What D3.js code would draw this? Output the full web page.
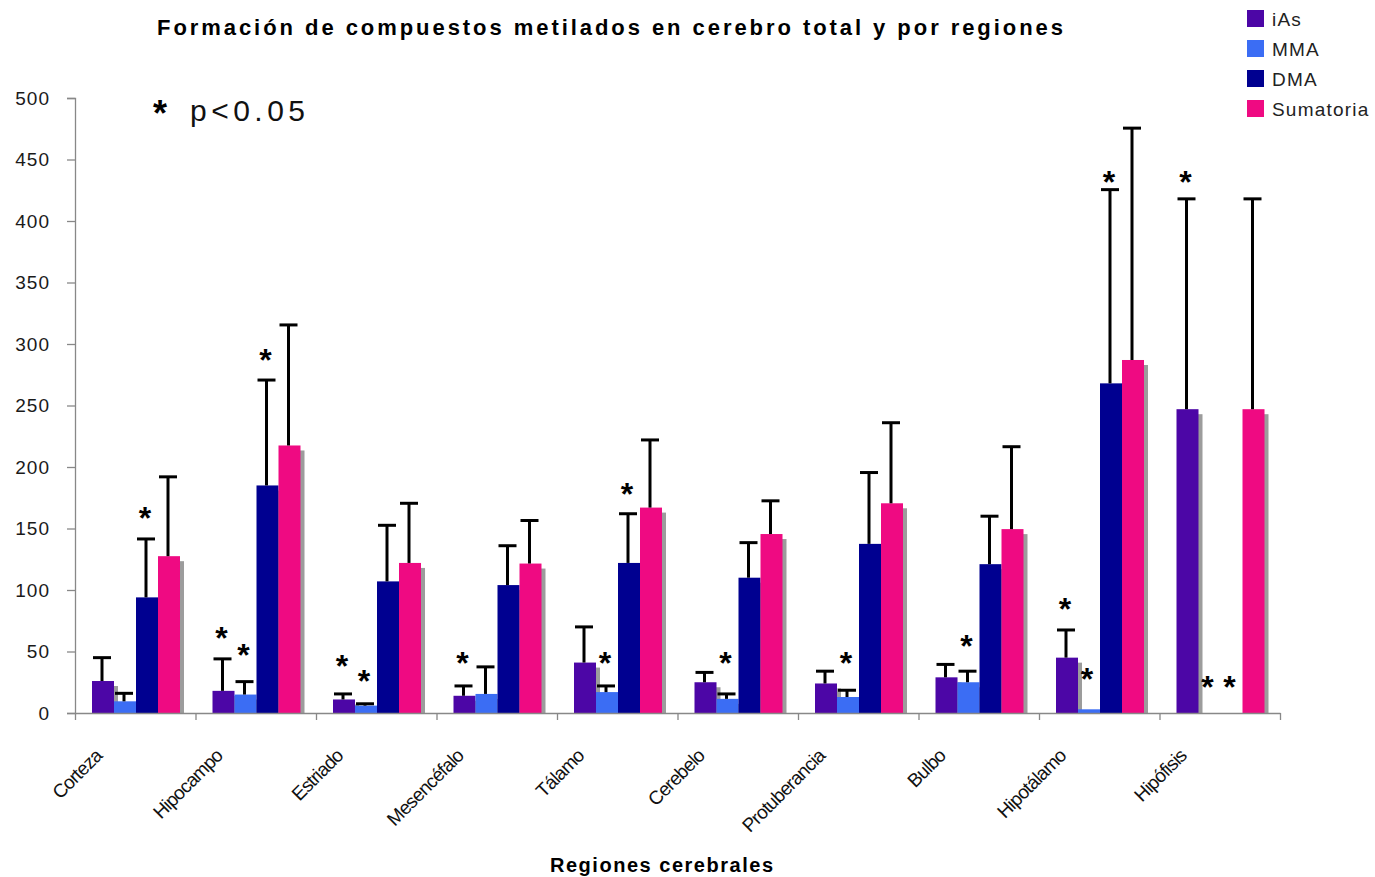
<!DOCTYPE html>
<html lang="es">
<head>
<meta charset="utf-8">
<title>Formación de compuestos metilados en cerebro total y por regiones</title>
<script src="https://cdn.jsdelivr.net/npm/d3@7"></script>
<style>
  html, body { margin: 0; padding: 0; background: #ffffff; }
  svg { display: block; font-family: "Liberation Sans", Arial, sans-serif; }
</style>
</head>
<body>
<svg id="chart" width="1375" height="877"></svg>
<script>
// Brain regions (x categories)
const categories = ["Corteza", "Hipocampo", "Estriado", "Mesencéfalo", "Tálamo",
  "Cerebelo", "Protuberancia", "Bulbo", "Hipotálamo", "Hipófisis"];

// Series names
const seriesNames = ["iAs", "MMA", "DMA", "Sumatoria"];

// Mean values per region
const iAsValues  = [26, 18, 11, 14, 41, 25, 24, 29, 45, 247];
const mmaValues  = [9.5, 15, 6, 15.5, 17, 11.5, 13, 25, 3, null];
const dmaValues  = [94, 185, 107, 104, 122, 110, 137.5, 121, 268, null];
const sumValues  = [127.5, 217.5, 122, 121.5, 167, 145.5, 170.5, 149.5, 287, 247];

// Upper error (SD) per region
const iAsErrors  = [19, 26, 4.5, 8, 29, 8, 10, 10.5, 22.5, 171];
const mmaErrors  = [6.5, 10.5, 1.5, 22, 5, 4, 5.5, 9, null, null];
const dmaErrors  = [47.5, 85.7, 45.6, 32, 40, 28.5, 58, 39, 157.5, null];
const sumErrors  = [64.5, 98, 48.5, 35, 55, 27, 65.5, 67, 188.5, 171];

// Significance marks (p<0.05): region, series, level of the asterisk on the value axis
const sigRegions = ["Corteza", "Hipocampo", "Hipocampo", "Hipocampo", "Estriado", "Estriado",
  "Mesencéfalo", "Tálamo", "Tálamo", "Cerebelo", "Protuberancia", "Bulbo",
  "Hipotálamo", "Hipotálamo", "Hipotálamo", "Hipófisis", "Hipófisis", "Hipófisis"];
const sigSeries  = ["DMA", "iAs", "MMA", "DMA", "iAs", "MMA",
  "iAs", "MMA", "DMA", "MMA", "MMA", "MMA",
  "iAs", "MMA", "DMA", "iAs", "MMA", "DMA"];
const sigLevels  = [164, 67, 53, 293, 44, 32,
  46, 46, 184, 46, 46, 60,
  90, 33, 437, 437, 27, 27];

// Value axis ticks
const yTicks = [0, 50, 100, 150, 200, 250, 300, 350, 400, 450, 500];

const colors = {
  iAs: "#4c06a6",
  MMA: "#3b6df4",
  DMA: "#000090",
  Sumatoria: "#ef0a82"
};

const valuesBySeries = { iAs: iAsValues, MMA: mmaValues, DMA: dmaValues, Sumatoria: sumValues };
const errorsBySeries = { iAs: iAsErrors, MMA: mmaErrors, DMA: dmaErrors, Sumatoria: sumErrors };

const svg = d3.select("#chart");

const plot = { left: 75, right: 1280, top: 98, bottom: 713 };

const x = d3.scaleBand().domain(categories).range([plot.left, plot.right]).padding(0);
const xs = d3.scaleBand().domain(seriesNames).range([17, 105]).padding(0);
const y = d3.scaleLinear().domain([0, 500]).range([plot.bottom, plot.top]);

// Flattened bar records
const bars = [];
categories.forEach((c, i) => {
  seriesNames.forEach(s => {
    const v = valuesBySeries[s][i];
    if (v == null) return;
    bars.push({ region: c, series: s, value: v, err: errorsBySeries[s][i] });
  });
});

const bx = d => x(d.region) + xs(d.series);
const bw = xs.bandwidth();

// Drop shadows behind the bars
svg.append("defs").append("clipPath").attr("id", "plotClip")
  .append("rect").attr("x", plot.left).attr("y", 0)
  .attr("width", plot.right - plot.left + 10).attr("height", plot.bottom);

svg.append("g").attr("clip-path", "url(#plotClip)")
  .selectAll("rect").data(bars).join("rect")
  .attr("x", d => bx(d) + 4)
  .attr("y", d => y(d.value) + 5)
  .attr("width", bw)
  .attr("height", d => Math.max(0, plot.bottom - y(d.value)))
  .attr("fill", "#9c9c9c");

// Bars
svg.append("g").selectAll("rect").data(bars).join("rect")
  .attr("x", d => bx(d))
  .attr("y", d => y(d.value))
  .attr("width", bw)
  .attr("height", d => plot.bottom - y(d.value))
  .attr("fill", d => colors[d.series]);

// Error bars (upper only)
const errG = svg.append("g").attr("stroke", "#000").attr("stroke-width", 3);
const withErr = bars.filter(d => d.err != null);
errG.selectAll("line.stem").data(withErr).join("line")
  .attr("class", "stem")
  .attr("x1", d => bx(d) + bw / 2 - 1).attr("x2", d => bx(d) + bw / 2 - 1)
  .attr("y1", d => y(d.value)).attr("y2", d => y(d.value + d.err));
errG.selectAll("line.cap").data(withErr).join("line")
  .attr("class", "cap")
  .attr("x1", d => bx(d) + bw / 2 - 10).attr("x2", d => bx(d) + bw / 2 + 8)
  .attr("y1", d => y(d.value + d.err)).attr("y2", d => y(d.value + d.err));

// Axes
const axisColor = "#888";
const yAxis = svg.append("g")
  .attr("transform", `translate(${plot.left},0)`)
  .call(d3.axisLeft(y).tickValues(yTicks).tickSize(8).tickSizeOuter(8).tickPadding(17));
yAxis.select(".domain").attr("stroke", axisColor).attr("stroke-width", 1.3);
yAxis.selectAll(".tick line").attr("stroke", axisColor).attr("stroke-width", 1.3);
yAxis.selectAll(".tick text")
  .attr("font-size", 19).attr("fill", "#1a1a1a")
  .attr("letter-spacing", "1px")
  .attr("font-family", "'Liberation Sans', Arial, sans-serif");

const xEdges = d3.scaleLinear().domain([0, categories.length]).range([plot.left, plot.right]);
const xAxis = svg.append("g")
  .attr("transform", `translate(0,${plot.bottom})`)
  .call(d3.axisBottom(xEdges).tickValues(d3.range(categories.length + 1))
    .tickSize(7).tickSizeOuter(0).tickFormat(""));
xAxis.select(".domain").attr("stroke", axisColor).attr("stroke-width", 1.3);
xAxis.selectAll(".tick line").attr("stroke", axisColor).attr("stroke-width", 1.3);

// Region labels, rotated
svg.append("g").selectAll("text").data(categories).join("text")
  .attr("transform", d => `translate(${x(d) + x.bandwidth() / 2 - 32},${plot.bottom + 44}) rotate(-45)`)
  .attr("text-anchor", "end")
  .attr("font-size", 19)
  .attr("letter-spacing", "-0.8px")
  .attr("fill", "#111")
  .text(d => d);

// Significance asterisks
const sig = sigRegions.map((r, i) => ({ region: r, series: sigSeries[i], level: sigLevels[i] }));
const astSize = 32;
svg.append("g").selectAll("text").data(sig).join("text")
  .attr("x", d => x(d.region) + xs(d.series) + bw / 2 - 2)
  .attr("y", d => y(d.level) + astSize * 0.56)
  .attr("text-anchor", "middle")
  .attr("font-size", astSize)
  .attr("font-weight", "bold")
  .attr("fill", "#000")
  .text("*");

// Title
svg.append("text")
  .attr("x", 157).attr("y", 35)
  .attr("font-size", 22).attr("font-weight", "bold").attr("fill", "#000")
  .attr("textLength", 906).attr("lengthAdjust", "spacing")
  .text("Formación de compuestos metilados en cerebro total y por regiones");

// Significance note
svg.append("text")
  .attr("x", 153).attr("y", 126)
  .attr("font-size", 36).attr("font-weight", "bold").attr("fill", "#000")
  .text("*");
svg.append("text")
  .attr("x", 190).attr("y", 121)
  .attr("font-size", 30).attr("fill", "#111")
  .attr("textLength", 115).attr("lengthAdjust", "spacing")
  .text("p<0.05");

// X axis title
svg.append("text")
  .attr("x", 550).attr("y", 872)
  .attr("font-size", 20).attr("font-weight", "bold").attr("fill", "#000")
  .attr("textLength", 223).attr("lengthAdjust", "spacing")
  .text("Regiones cerebrales");

// Legend
const legend = svg.append("g").attr("transform", "translate(1247,10)");
const lg = legend.selectAll("g").data(seriesNames).join("g")
  .attr("transform", (d, i) => `translate(0,${i * 30})`);
lg.append("rect").attr("width", 17).attr("height", 17).attr("fill", d => colors[d]);
lg.append("text").attr("x", 25).attr("y", 16)
  .attr("font-size", 19).attr("letter-spacing", "1.2px").attr("fill", "#222")
  .text(d => d);
</script>
</body>
</html>
